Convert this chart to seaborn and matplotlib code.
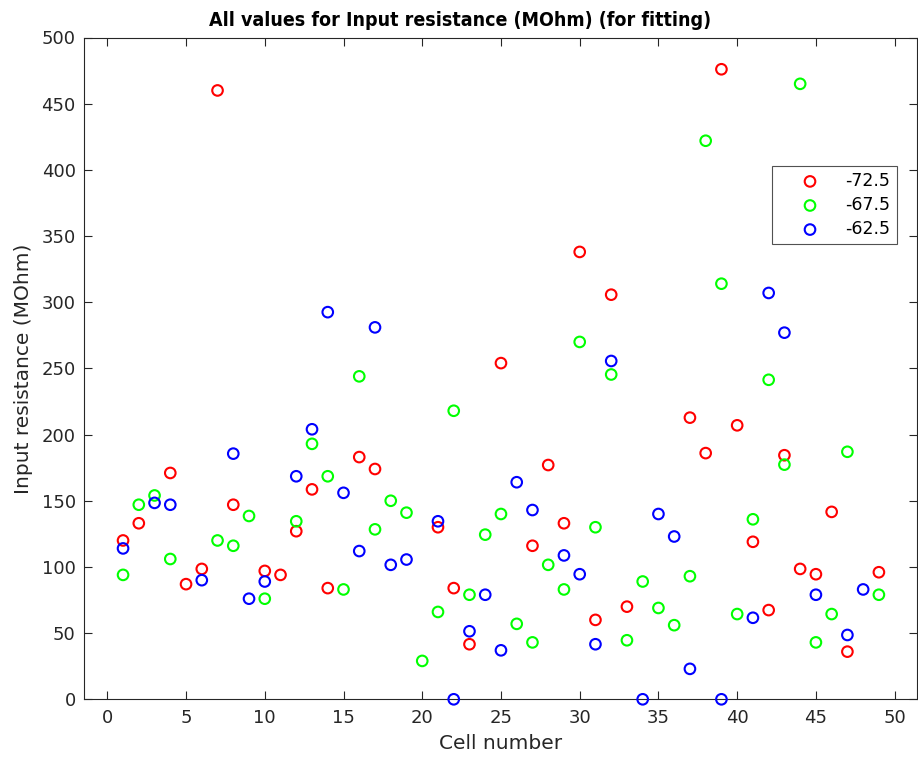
import numpy as np
import pandas as pd
import matplotlib
matplotlib.use("Agg")
import matplotlib.pyplot as plt
import seaborn as sns

nan = np.nan

# Cell numbers 1..49
cells = list(range(1, 50))

# Input resistance (MOhm) per holding potential; NaN where a cell has no value
r_m72_5 = [120, 133, nan, 171, 87, 98.5, 460, 147, nan, 97,
           94, 127, 158.6, 84, nan, 183, 174, nan, nan, nan,
           130, 84, 41.6, nan, 254, nan, 116, 177, 133, 338,
           60, 305.7, 70, nan, nan, nan, 212.8, 186, 476, 207,
           119, 67.4, 184.4, 98.5, 94.5, 141.6, 36, nan, 96]
r_m67_5 = [94, 147, 154, 106, nan, nan, 120, 116, 138.5, 76,
           nan, 134.5, 193, 168.5, 83, 244, 128.4, 150, 141, 29,
           66, 218, 79, 124.4, 140, 57, 43, 101.6, 83, 270,
           130, 245.4, 44.6, 89, 69, 56, 93, 422, 314, 64.4,
           136, 241.4, 177.3, 465, 43, 64.4, 187, nan, 79]
r_m62_5 = [114, nan, 148.4, 147, nan, 90, nan, 185.6, 76, 89,
           nan, 168.5, 204, 292.5, 156, 112, 281, 101.6, 105.6, nan,
           134.5, 0, 51.4, 79, 37, 164, 143, nan, 108.7, 94.5,
           41.6, 255.6, nan, 0, 140, 123, 23, nan, 0, nan,
           61.6, 307, 277, nan, 79, nan, 48.6, 83, nan]

series_labels = ["-72.5", "-67.5", "-62.5"]
series_values = [r_m72_5, r_m67_5, r_m62_5]
series_colors = ["#ff0000", "#00ff00", "#0000ff"]

x_ticks = list(range(0, 51, 5))
y_ticks = list(range(0, 501, 50))

df = pd.concat(
    [pd.DataFrame({"cell": cells, "value": vals, "potential": lab})
     for lab, vals in zip(series_labels, series_values)],
    ignore_index=True,
)

sns.set_style("white")
plt.rcParams["font.family"] = ["DejaVu Sans"]

ink = "#262626"
fig = plt.figure(figsize=(9.18, 7.61), dpi=100)
ax = fig.add_axes([84 / 918, 1 - 699.3 / 761, (917 - 84) / 918, (699.3 - 37.5) / 761])

for lab, col in zip(series_labels, series_colors):
    sub = df[df["potential"] == lab]
    sns.scatterplot(data=sub, x="cell", y="value", ax=ax, color=col,
                    facecolors="none", edgecolor=col, linewidth=1.5,
                    s=58, marker="o", label=lab, clip_on=False, zorder=3)

ax.set_xlim(-1.48, 51.42)
ax.set_ylim(0, 500)
ax.set_xticks(x_ticks)
ax.set_yticks(y_ticks)

for side in ["left", "right", "top", "bottom"]:
    ax.spines[side].set_color(ink)
    ax.spines[side].set_linewidth(0.8)
ax.tick_params(axis="both", which="both", direction="in", length=6,
               width=0.8, color=ink, labelcolor=ink, labelsize=13,
               top=True, right=True, bottom=True, left=True)
ax.tick_params(axis="y", pad=6)
ax.tick_params(axis="x", pad=7)

ax.set_xlabel("Cell number", fontsize=14.5, color=ink, labelpad=5)
ax.set_ylabel("Input resistance (MOhm)", fontsize=14.5, color=ink, labelpad=6)
ax.set_title("All values for Input resistance (MOhm) (for fitting)",
             fontsize=14, fontweight="bold", fontstretch="condensed",
             color="black", x=0.451, pad=8)

leg = ax.legend(loc="upper right", bbox_to_anchor=(0.9756, 0.806),
                borderaxespad=0, frameon=True, fancybox=False,
                fontsize=12.5, handlelength=3.7, handletextpad=0.2,
                borderpad=0.35, labelspacing=0.35, markerscale=1.0)
leg.get_frame().set_edgecolor(ink)
leg.get_frame().set_linewidth(0.8)
for t in leg.get_texts():
    t.set_color("black")

fig.savefig("out.png", dpi=100)
